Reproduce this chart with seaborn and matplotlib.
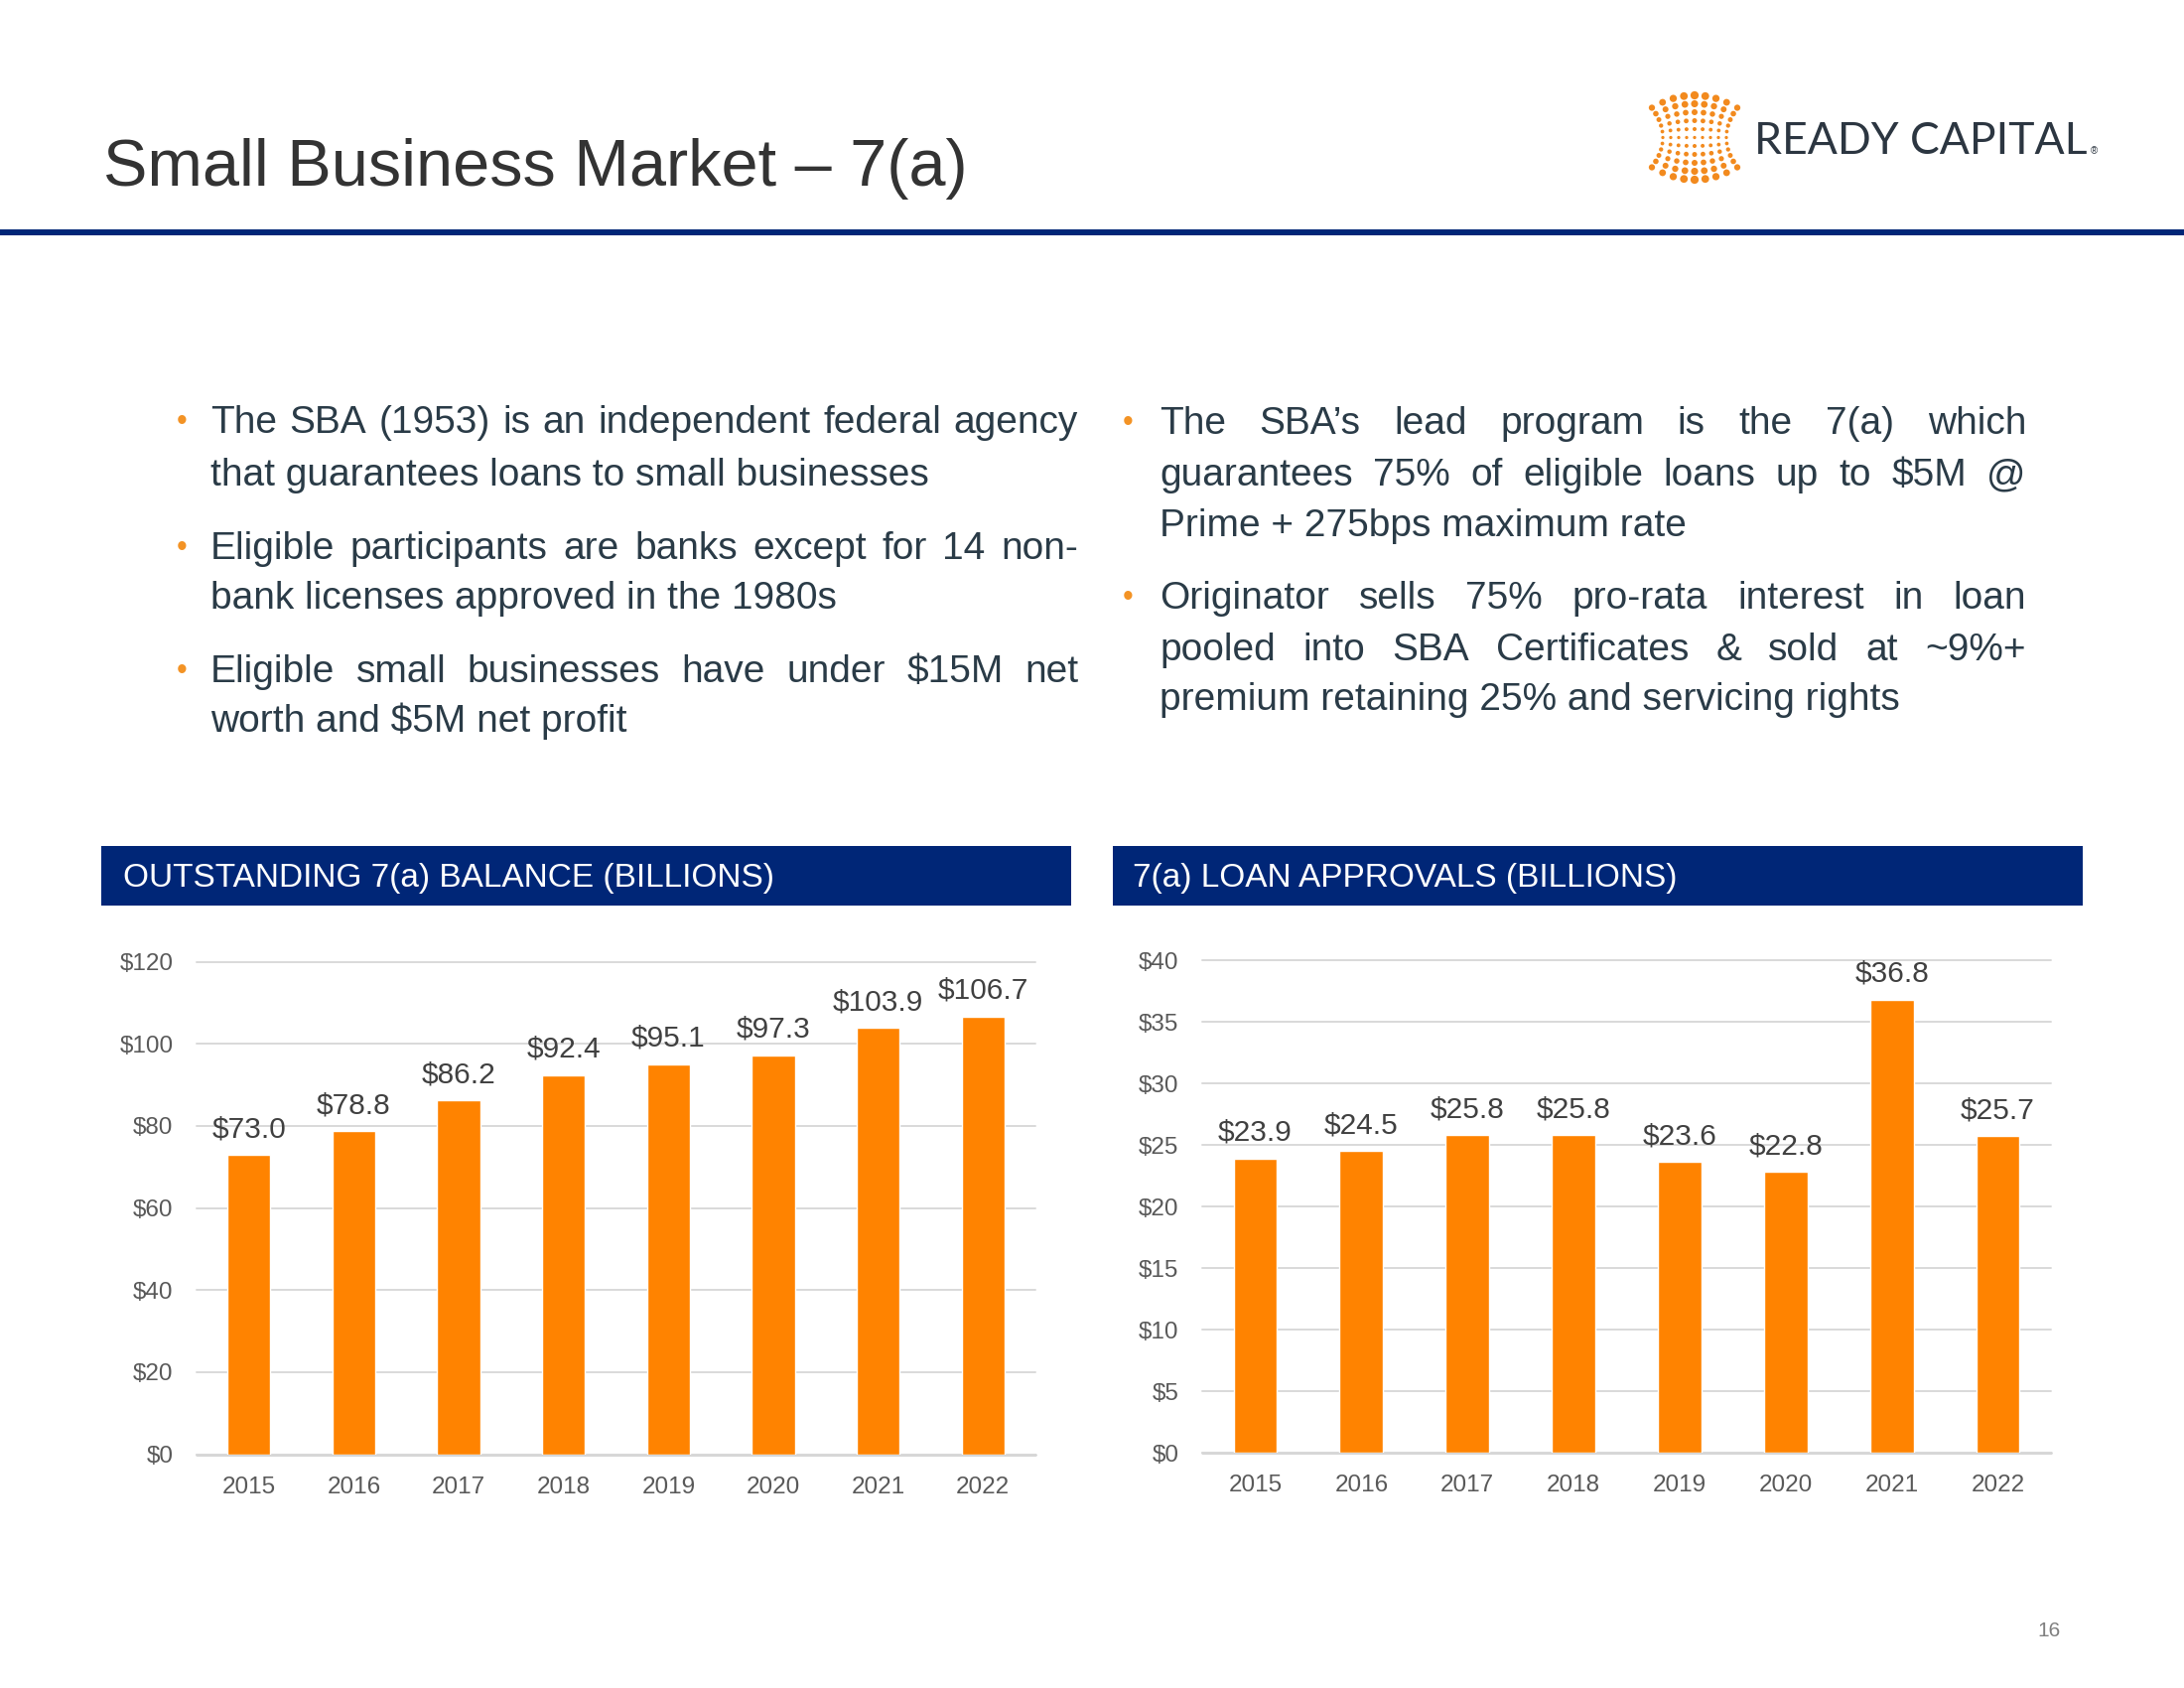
import numpy as np
import pandas as pd
import matplotlib
matplotlib.use("Agg")
import matplotlib.pyplot as plt
import seaborn as sns
from matplotlib.patches import Rectangle

# stile grafico
sns.set_theme(style="white")
plt.rcParams["font.family"] = ["Liberation Sans", "DejaVu Sans"]

W, H = 2200, 1700

# dati dei due grafici
anni = ["2015", "2016", "2017", "2018", "2019", "2020", "2021", "2022"]
saldo_7a = [73.0, 78.8, 86.2, 92.4, 95.1, 97.3, 103.9, 106.7]
approvazioni_7a = [23.9, 24.5, 25.8, 25.8, 23.6, 22.8, 36.8, 25.7]
tick_saldo = [0, 20, 40, 60, 80, 100, 120]
tick_approvazioni = [0, 5, 10, 15, 20, 25, 30, 35, 40]

titolo = "Small Business Market – 7(a)"
titolo_sx = "OUTSTANDING 7(a) BALANCE (BILLIONS)"
titolo_dx = "7(a) LOAN APPROVALS (BILLIONS)"

# righe dei punti elenco: (testo, giustificata, inizio punto)
testo_sx = [
    ("The SBA (1953) is an independent federal agency", True, True),
    ("that guarantees loans to small businesses", False, False),
    ("Eligible participants are banks except for 14 non-", True, True),
    ("bank licenses approved in the 1980s", False, False),
    ("Eligible small businesses have under $15M net", True, True),
    ("worth and $5M net profit", False, False),
]
testo_dx = [
    ("The SBA’s lead program is the 7(a) which", True, True),
    ("guarantees 75% of eligible loans up to $5M @", True, False),
    ("Prime + 275bps maximum rate", False, False),
    ("Originator sells 75% pro-rata interest in loan", True, True),
    ("pooled into SBA Certificates & sold at ~9%+", True, False),
    ("premium retaining 25% and servicing rights", False, False),
]
baseline_sx = [436, 489, 563, 613, 687, 737]
baseline_dx = [437, 489, 540, 613, 665, 715]

NAVY = "#002677"
ARANCIO = "#FF8300"
PUNTO = "#F39325"
TESTO = "#2A3B47"
GRIGIO = "#595959"
GRIGLIA = "#D9D9D9"

fig = plt.figure(figsize=(22, 17), dpi=100)
fig.patch.set_facecolor("white")

# livello di sfondo in coordinate pixel
bg = fig.add_axes([0, 0, 1, 1])
bg.set_xlim(0, W)
bg.set_ylim(H, 0)
bg.axis("off")

bg.text(104, 187, titolo, fontsize=48, color="#333333", va="baseline")
bg.add_patch(Rectangle((0, 231), W, 6, color=NAVY, lw=0))

# logo: puntini arancioni
righe = np.arange(-5, 6)
colonne = np.arange(-4, 5)
px, py, dim = [], [], []
for i in righe:
    for j in colonne:
        u, v = i / 5, j / 4
        px.append(1707 + v * (32 + 11 * u ** 2))
        py.append(138.5 + u * (42.5 - 12.5 * v ** 2))
        d = 3.3 + 5.0 * abs(u) ** 1.2 * (1 - 0.4 * abs(v))
        dim.append((d * 0.72) ** 2)
bg.scatter(px, py, s=dim, color="#F28A1E", lw=0)
bg.text(1767, 155, "READY CAPITAL", fontsize=32, color="#2C3641",
        family=["Lato", "DejaVu Sans"], va="baseline")
bg.text(2106, 155, "®", fontsize=7, color="#2C3641", va="baseline")

renderer = fig.canvas.get_renderer()


def scrivi_riga(x0, x1, y, riga, giustifica):
    if not giustifica:
        bg.text(x0, y, riga, fontsize=28, color=TESTO, va="baseline")
        return
    parole = riga.split(" ")
    oggetti = [bg.text(0, y, p, fontsize=28, color=TESTO, va="baseline")
               for p in parole]
    larghezze = [o.get_window_extent(renderer=renderer).width for o in oggetti]
    spazio = (x1 - x0 - sum(larghezze)) / (len(parole) - 1)
    x = x0
    for o, w in zip(oggetti, larghezze):
        o.set_x(x)
        x += w + spazio


def elenco(righe_testo, baseline, x0, x1, xb):
    for (riga, giust, punto), y in zip(righe_testo, baseline):
        scrivi_riga(x0, x1, y, riga, giust)
        if punto:
            bg.text(xb, y - 3, "•", fontsize=22, color=PUNTO,
                    ha="center", va="baseline")


elenco(testo_sx, baseline_sx, 212, 1086, 183)
elenco(testo_dx, baseline_dx, 1168, 2041, 1136)

# intestazioni blu dei grafici
bg.add_patch(Rectangle((102, 852), 977, 60, color=NAVY, lw=0))
bg.add_patch(Rectangle((1121, 852), 977, 60, color=NAVY, lw=0))
bg.text(124, 893, titolo_sx, fontsize=24, color="white", va="baseline")
bg.text(1141, 893, titolo_dx, fontsize=24, color="white", va="baseline")

bg.text(2076, 1648, "16", fontsize=15, color="#7F7F7F", ha="right", va="baseline")


def assi_px(x0, y0, x1, y1):
    return fig.add_axes([x0 / W, 1 - y1 / H, (x1 - x0) / W, (y1 - y0) / H])


# grafico a barre con etichette dei valori
def grafico_barre(ax, valori, ticks):
    df = pd.DataFrame({"anno": anni, "valore": valori})
    sns.barplot(data=df, x="anno", y="valore", color=ARANCIO, saturation=1,
                width=0.41, ax=ax)
    ax.set_xlim(-0.5, len(anni) - 0.5)
    ax.set_ylim(0, ticks[-1])
    ax.set_yticks(ticks)
    ax.set_yticklabels([f"${t}" for t in ticks])
    ax.set_xlabel("")
    ax.set_ylabel("")
    ax.set_facecolor("white")
    ax.grid(axis="y", color=GRIGLIA, lw=1.4)
    ax.grid(axis="x", visible=False)
    ax.set_axisbelow(True)
    for gl in ax.get_ygridlines():
        gl.set_clip_on(False)
    for s in ax.spines.values():
        s.set_visible(False)
    ax.axhline(0, color="#D0D0D0", lw=2, zorder=0.5, clip_on=False)
    ax.tick_params(axis="y", length=0, labelsize=17.5, labelcolor=GRIGIO, pad=17)
    ax.tick_params(axis="x", length=0, labelsize=17.5, labelcolor=GRIGIO, pad=16)
    ax.bar_label(ax.containers[0], labels=[f"${v:.1f}" for v in valori],
                 padding=8.5, fontsize=21.5, color="#404040")


ax1 = assi_px(198, 968.7, 1043, 1464.6)
grafico_barre(ax1, saldo_7a, tick_saldo)

ax2 = assi_px(1211, 967, 2066, 1463)
grafico_barre(ax2, approvazioni_7a, tick_approvazioni)

fig.savefig("out.png", dpi=100)
